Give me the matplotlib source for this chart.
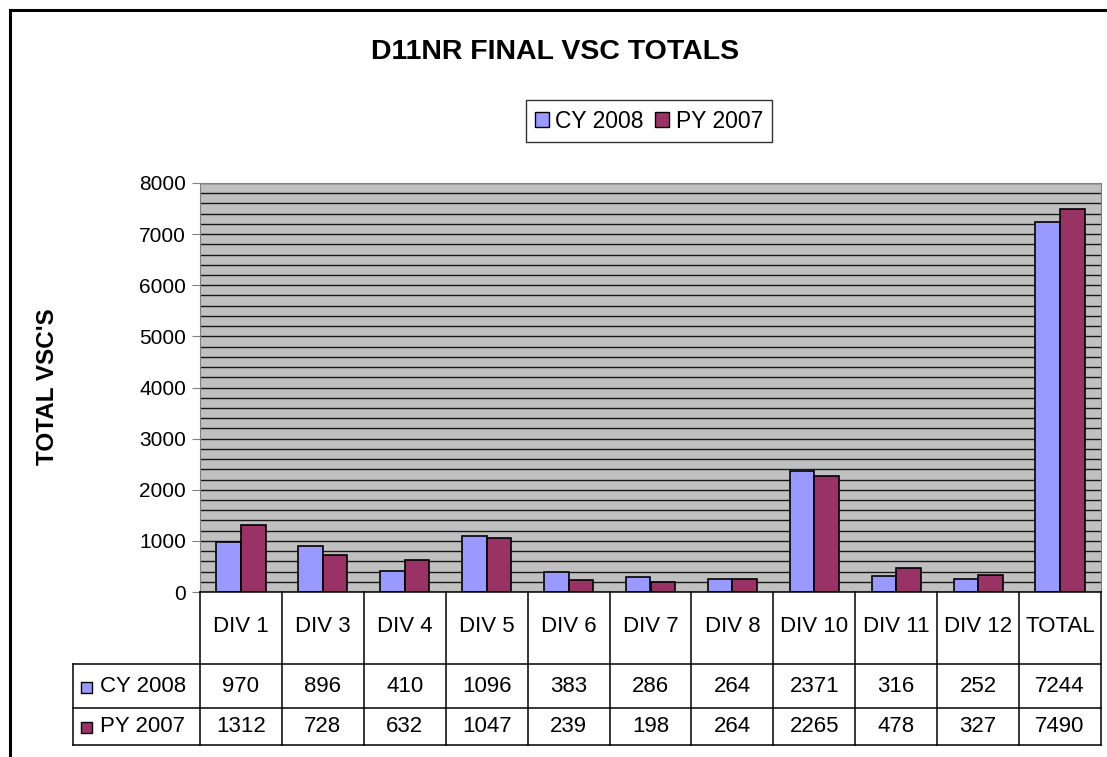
import matplotlib
matplotlib.use("Agg")
import matplotlib.pyplot as plt
import numpy as np
from matplotlib.patches import Rectangle, Patch

plt.rcParams['font.family'] = ['Liberation Sans', 'DejaVu Sans']

categories = ["DIV 1", "DIV 3", "DIV 4", "DIV 5", "DIV 6", "DIV 7", "DIV 8",
              "DIV 10", "DIV 11", "DIV 12", "TOTAL"]
cy_2008 = [970, 896, 410, 1096, 383, 286, 264, 2371, 316, 252, 7244]
py_2007 = [1312, 728, 632, 1047, 239, 198, 264, 2265, 478, 327, 7490]
series_names = ["CY 2008", "PY 2007"]
cy_color = "#9999FF"
py_color = "#993366"

W, H = 1107, 757
fig = plt.figure(figsize=(W / 100, H / 100), dpi=100)

def px_axes(left, top, right, bottom):
    return fig.add_axes([left / W, 1 - bottom / H, (right - left) / W, (bottom - top) / H])

# outer chart border
fig.add_artist(plt.Line2D([10 / W, 10 / W], [0, 1 - 10 / H], color="black", lw=2.2))
fig.add_artist(plt.Line2D([10 / W, 1], [1 - 10 / H, 1 - 10 / H], color="black", lw=2.2))

# main plot
ax = px_axes(200, 183, 1101, 592)
ax.set_facecolor("#C0C0C0")
x = np.arange(len(categories))
bw = 0.3
ax.bar(x - bw / 2, cy_2008, bw, color=cy_color, edgecolor="black", lw=1.2, zorder=3)
ax.bar(x + bw / 2, py_2007, bw, color=py_color, edgecolor="black", lw=1.2, zorder=3)
ax.set_xlim(-0.5, len(categories) - 0.5)
ax.set_ylim(0, 8000)
ax.set_yticks(range(0, 8001, 1000))
ax.set_yticks(range(0, 8001, 200), minor=True)
ax.yaxis.grid(True, which="both", color="#181818", lw=1.0, zorder=1)
ax.set_xticks([])
ax.tick_params(axis="y", which="major", labelsize=15, length=6, color="#808080", pad=4)
ax.tick_params(axis="y", which="minor", length=0)
for s in ["top", "right"]:
    ax.spines[s].set_color("#808080")
ax.spines["left"].set_color("#808080")
ax.spines["bottom"].set_visible(False)
ax.set_axisbelow(True)

# data table below the plot
cw = 901 / len(categories)
tb = px_axes(73, 592, 1101, 745)
tb.set_xlim(-0.5 - 127 / cw, len(categories) - 0.5)
tb.set_ylim(153, 0)
tb.axis("off")
xl = -0.5 - 127 / cw
xr = len(categories) - 0.5
lk = dict(color="black", lw=1.1, clip_on=False)
tb.plot([-0.5, xr], [0, 0], **lk)
for b in np.arange(-0.5, xr + 0.01, 1):
    tb.plot([b, b], [0, 153], **lk)
tb.plot([xl, xl], [72, 153], **lk)
for yy in [72, 116, 153]:
    tb.plot([xl, xr], [yy, yy], **lk)
fs = 16
for i, c in enumerate(categories):
    tb.text(i, 35, c, ha="center", va="center", fontsize=fs)
    tb.text(i, 95, str(cy_2008[i]), ha="center", va="center", fontsize=fs)
    tb.text(i, 135, str(py_2007[i]), ha="center", va="center", fontsize=fs)
for yy, name, col in [(95, series_names[0], cy_color), (135, series_names[1], py_color)]:
    tb.add_patch(Rectangle((xl + 8 / cw, yy - 5), 11 / cw, 11, facecolor=col,
                           edgecolor="black", lw=1, clip_on=False))
    tb.text(xl + 27 / cw, yy, name, ha="left", va="center", fontsize=fs)

# title, axis label, legend
fig.text(555 / W, 1 - 52 / H, "D11NR FINAL VSC TOTALS", ha="center", va="center",
         fontsize=20.5, fontweight="bold")
fig.text(48 / W, 1 - 387 / H, "TOTAL VSC'S", ha="center", va="center",
         rotation=90, fontsize=17.5, fontweight="bold")
handles = [Patch(facecolor=cy_color, edgecolor="black", lw=1),
           Patch(facecolor=py_color, edgecolor="black", lw=1)]
leg = fig.legend(handles, series_names, loc="center", bbox_to_anchor=(649 / W, 1 - 121 / H),
                 ncol=2, fontsize=16.5, frameon=True, fancybox=False, edgecolor="black",
                 handlelength=0.6, handleheight=0.6, handletextpad=0.3,
                 columnspacing=0.5, borderpad=0.4, borderaxespad=0)
leg.get_frame().set_linewidth(1.0)

fig.savefig("out.png", dpi=100)
